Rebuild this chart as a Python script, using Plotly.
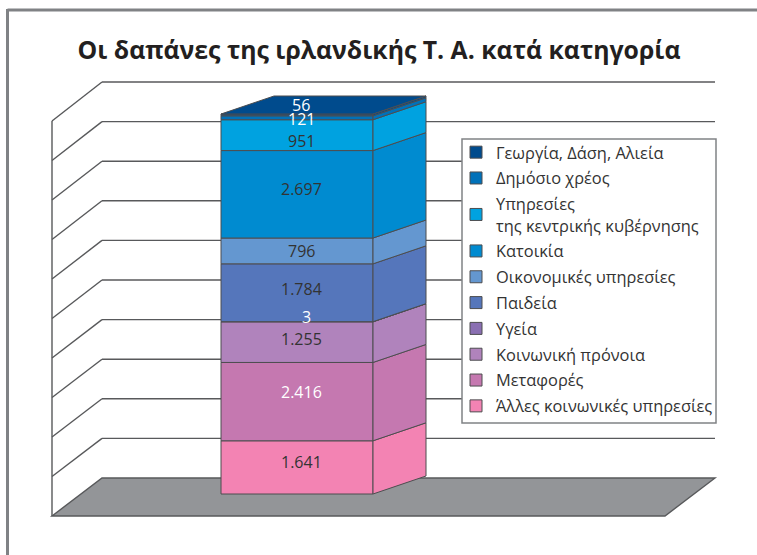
import plotly.graph_objects as go

title = "Οι δαπάνες της ιρλανδικής Τ. Α. κατά κατηγορία"
# bottom of the stack first
categories = ["Άλλες κοινωνικές υπηρεσίες", "Μεταφορές", "Κοινωνική πρόνοια", "Υγεία", "Παιδεία",
              "Οικονομικές υπηρεσίες", "Κατοικία", "Υπηρεσίες<br>της κεντρικής κυβέρνησης",
              "Δημόσιο χρέος", "Γεωργία, Δάση, Αλιεία"]
values = [1641, 2416, 1255, 3, 1784, 796, 2697, 951, 121, 56]
colors = ["#f383b3", "#c578b0", "#b083bc", "#8a6fb2", "#5576bb",
          "#6497d0", "#008bd0", "#00a2e0", "#0071b9", "#004b8d"]
label_colors = ["#333", "#fff", "#333", "#fff", "#333", "#333", "#333", "#333", "#fff", "#fff"]
label_yshift = [5, 10, 3, 5, 4, 0, 5, -6, -1, 10]
label_xshift = [4, 4, 4, 9, 4, 4, 4, 4, 4, 4]

W, H = 757, 555
BASE_PX, PX_PER_UNIT = 494, 380 / sum(values)
BAR_L, BAR_R = 221, 373
DX, DY_PX = 53, 18
LINE = "#4d4d4f"
WALL = "#58595b"
FONT = "Open Sans"


def yv(px):
    return (BASE_PX - px) / PX_PER_UNIT


dy = DY_PX / PX_PER_UNIT
fig = go.Figure()

cum = 0
bottoms, tops = [], []
for v in values:
    bottoms.append(cum)
    cum += v
    tops.append(cum)

for i, (name, v, b, c) in enumerate(zip(categories, values, bottoms, colors)):
    fig.add_trace(go.Bar(x=[(BAR_L + BAR_R) / 2], y=[v], base=[b], width=[BAR_R - BAR_L], name=name,
                         legendgroup=name, legendrank=len(values) - i,
                         marker=dict(color=c, line=dict(color=LINE, width=1)),
                         hoverinfo="skip"))
for v, b, t, c in zip(values, bottoms, tops, colors):
    fig.add_trace(go.Scatter(x=[BAR_R, BAR_R + DX, BAR_R + DX, BAR_R, BAR_R],
                             y=[b, b + dy, t + dy, t, b], mode="lines", fill="toself", fillcolor=c,
                             line=dict(color=LINE, width=1), showlegend=False, hoverinfo="skip"))
fig.add_trace(go.Scatter(x=[BAR_L, BAR_R, BAR_R + DX, BAR_L + DX, BAR_L],
                         y=[cum, cum, cum + dy, cum + dy, cum], mode="lines", fill="toself",
                         fillcolor=colors[-1], line=dict(color=LINE, width=1),
                         showlegend=False, hoverinfo="skip"))

shapes = [
    dict(type="line", xref="x", yref="y", x0=7.5, x1=W, y0=yv(10), y1=yv(10),
         line=dict(color="#808285", width=3), layer="below"),
    dict(type="line", xref="x", yref="y", x0=7.5, x1=7.5, y0=yv(9), y1=yv(H),
         line=dict(color="#808285", width=3), layer="below"),
]
WALL_L, WALL_B, WALL_FLOOR_F, WALL_FLOOR_B, WALL_END = 52, 102, 516, 478, 715
for k in range(1, 11):
    yf = WALL_FLOOR_F - 39.5 * k
    yb = WALL_FLOOR_B - 39.6 * k
    shapes.append(dict(type="line", xref="x", yref="y", x0=WALL_L, x1=WALL_B, y0=yv(yf), y1=yv(yb),
                       line=dict(color=WALL, width=1.4), layer="below"))
    shapes.append(dict(type="line", xref="x", yref="y", x0=WALL_B, x1=WALL_END, y0=yv(yb), y1=yv(yb),
                       line=dict(color=WALL, width=1.4), layer="below"))
shapes.append(dict(type="line", xref="x", yref="y", x0=WALL_L, x1=WALL_L, y0=yv(WALL_FLOOR_F),
                   y1=yv(WALL_FLOOR_F - 395), line=dict(color=WALL, width=1.4), layer="below"))
floor_pts = [(WALL_L, WALL_FLOOR_F), (WALL_B, WALL_FLOOR_B), (WALL_END, WALL_FLOOR_B), (665, WALL_FLOOR_F)]
path = "M " + " L ".join(f"{x},{yv(y)}" for x, y in floor_pts) + " Z"
shapes.append(dict(type="path", xref="x", yref="y", path=path, fillcolor="#939598",
                   line=dict(color=WALL, width=1.4), layer="below"))
# legend box, drawn separately so the swatches can sit close to its left edge
shapes.append(dict(type="rect", xref="x", yref="y", x0=462, x1=716, y0=yv(139), y1=yv(423),
                   fillcolor="white", line=dict(color="#808285", width=1.5), layer="below"))

annotations = []
for v, b, c, ys, xs in zip(values, bottoms, label_colors, label_yshift, label_xshift):
    annotations.append(dict(x=(BAR_L + BAR_R) / 2, y=b + v / 2, xref="x", yref="y",
                            text=f"{v:,}".replace(",", "."), showarrow=False, yshift=ys, xshift=xs,
                            font=dict(family=FONT, size=16, color=c)))

fig.update_layout(
    width=W, height=H, margin=dict(l=0, r=0, t=0, b=0), autosize=False,
    paper_bgcolor="white", plot_bgcolor="white", barmode="overlay", shapes=shapes, annotations=annotations,
    title=dict(text=f"<b>{title}</b>", x=379 / W, xanchor="center", y=1 - 50 / H, yanchor="middle",
               font=dict(family=FONT, size=24.8, color="#231f20")),
    xaxis=dict(range=[0, W], visible=False, fixedrange=True),
    yaxis=dict(range=[yv(H), yv(0)], visible=False, fixedrange=True),
    legend=dict(x=456 / W, y=1 - 135 / H, xanchor="left", yanchor="top", traceorder="grouped",
                tracegroupgap=1.5, bgcolor="rgba(0,0,0,0)", borderwidth=0,
                font=dict(family=FONT, size=16.4, color="#333")),
)
fig.write_html("out.html", post_script="document.body.style.margin='0';",
               config={"displayModeBar": False})
